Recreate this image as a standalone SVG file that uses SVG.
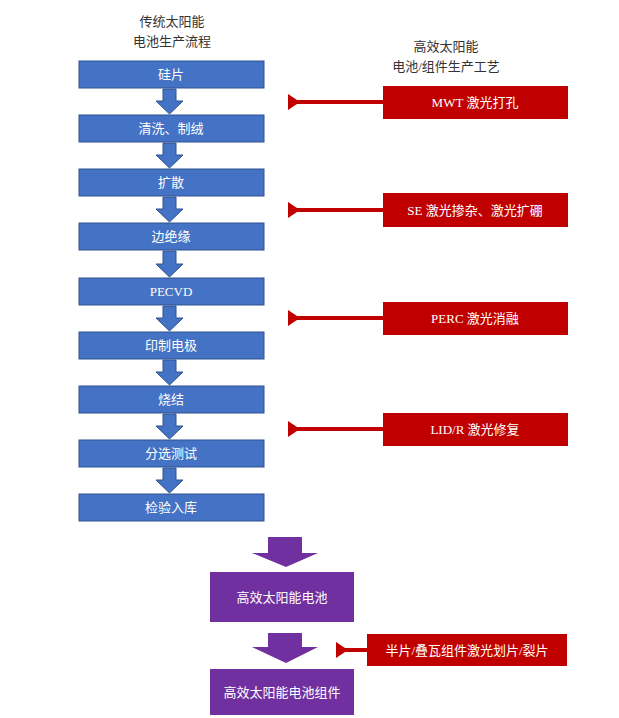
<svg xmlns="http://www.w3.org/2000/svg" width="619" height="718" viewBox="0 0 619 718">
<defs><style>
.b{fill:#4472C4;stroke:#2F528F;stroke-width:1}
.r{fill:#C00000}
.p{fill:#7030A0}
.t{font-family:"Liberation Serif","Noto Sans CJK SC",serif;font-size:13px;fill:#fff;text-anchor:middle}
.h{font-family:"Liberation Serif","Noto Sans CJK SC",serif;font-size:13px;fill:#333;text-anchor:middle}
.ba{fill:#4472C4;stroke:#2F528F;stroke-width:1}
</style>
<marker id="ah" markerWidth="4" markerHeight="4" refX="1" refY="2" orient="auto"><path d="M3,0 L0,2 L3,4 Z" fill="#C00000"/></marker>
</defs>
<rect width="619" height="718" fill="#fff"/>
<text class="h" x="172" y="26">传统太阳能</text>
<text class="h" x="172" y="46">电池生产流程</text>
<text class="h" x="446" y="51">高效太阳能</text>
<text class="h" x="446" y="71">电池/组件生产工艺</text>
<g id="connectors">
<path class="ba" d="M163,89h13v12h7l-13.5,13l-13.5,-13h7z"/>
<path class="ba" d="M163,143h13v12h7l-13.5,13l-13.5,-13h7z"/>
<path class="ba" d="M163,197h13v12h7l-13.5,13l-13.5,-13h7z"/>
<path class="ba" d="M163,251h13v13h7l-13.5,13l-13.5,-13h7z"/>
<path class="ba" d="M163,306h13v12h7l-13.5,13l-13.5,-13h7z"/>
<path class="ba" d="M163,360h13v12h7l-13.5,13l-13.5,-13h7z"/>
<path class="ba" d="M163,414h13v12h7l-13.5,13l-13.5,-13h7z"/>
<path class="ba" d="M163,468h13v12h7l-13.5,13l-13.5,-13h7z"/>
<path class="p" d="M268,537h34v16h16l-32,14l-34,-14h16z"/>
<path class="p" d="M268,633h34v14h16l-32,16l-34,-16h16z"/>
<g stroke="#C00000" stroke-width="4" marker-end="url(#ah)">
<line x1="383" y1="102" x2="296" y2="102"/>
<line x1="383" y1="210" x2="296" y2="210"/>
<line x1="383" y1="318" x2="296" y2="318"/>
<line x1="383" y1="429" x2="296" y2="429"/>
<line x1="367" y1="650" x2="344" y2="650"/>
</g>
</g>
<g id="n1"><rect class="b" x="79" y="61" width="185" height="27"/><text class="t" x="171" y="79">硅片</text></g>
<g id="n2"><rect class="b" x="79" y="115" width="185" height="27"/><text class="t" x="171" y="133">清洗、制绒</text></g>
<g id="n3"><rect class="b" x="79" y="169" width="185" height="27"/><text class="t" x="171" y="187">扩散</text></g>
<g id="n4"><rect class="b" x="79" y="223" width="185" height="27"/><text class="t" x="171" y="241">边绝缘</text></g>
<g id="n5"><rect class="b" x="79" y="278" width="185" height="27"/><text class="t" x="171" y="296">PECVD</text></g>
<g id="n6"><rect class="b" x="79" y="332" width="185" height="27"/><text class="t" x="171" y="350">印制电极</text></g>
<g id="n7"><rect class="b" x="79" y="386" width="185" height="27"/><text class="t" x="171" y="404">烧结</text></g>
<g id="n8"><rect class="b" x="79" y="440" width="185" height="27"/><text class="t" x="171" y="458">分选测试</text></g>
<g id="n9"><rect class="b" x="79" y="494" width="185" height="27"/><text class="t" x="171" y="512">检验入库</text></g>
<g id="r1"><rect class="r" x="383" y="86" width="185" height="33"/><text class="t" x="475" y="107">MWT 激光打孔</text></g>
<g id="r2"><rect class="r" x="383" y="193" width="185" height="34"/><text class="t" x="475" y="215">SE 激光掺杂、激光扩硼</text></g>
<g id="r3"><rect class="r" x="383" y="302" width="185" height="33"/><text class="t" x="475" y="323">PERC 激光消融</text></g>
<g id="r4"><rect class="r" x="383" y="413" width="185" height="33"/><text class="t" x="475" y="434">LID/R 激光修复</text></g>
<g id="r5"><rect class="r" x="367" y="634" width="200" height="32"/><text class="t" x="467" y="655">半片/叠瓦组件激光划片/裂片</text></g>
<g id="p1"><rect class="p" x="210" y="572" width="144" height="50"/><text class="t" x="282" y="602">高效太阳能电池</text></g>
<g id="p2"><rect class="p" x="210" y="669" width="144" height="46"/><text class="t" x="282" y="697">高效太阳能电池组件</text></g>
</svg>
